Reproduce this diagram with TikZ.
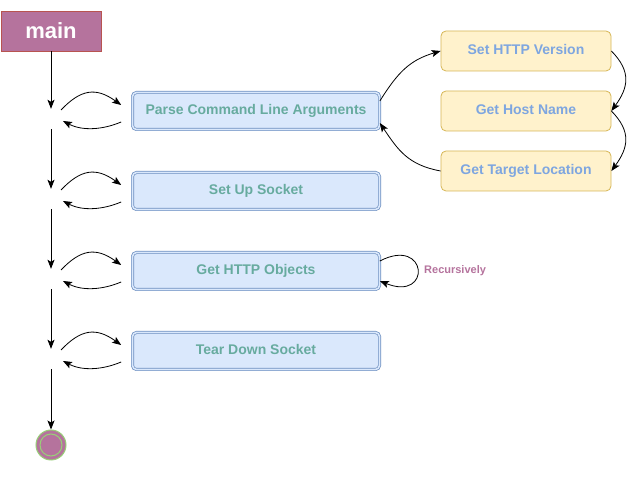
\documentclass[tikz,border=0pt]{standalone}
\usepackage{fontspec}
\setmainfont{Liberation Sans}
\usetikzlibrary{arrows.meta}
\definecolor{mainfill}{HTML}{B5739D}
\definecolor{mainline}{HTML}{B85450}
\definecolor{bluefill}{HTML}{DAE8FC}
\definecolor{blueline}{HTML}{6C8EBF}
\definecolor{bluetext}{HTML}{67AB9F}
\definecolor{yelfill}{HTML}{FFF2CC}
\definecolor{yelline}{HTML}{D6B656}
\definecolor{yeltext}{HTML}{7EA6E0}
\definecolor{endline}{HTML}{97D077}
\tikzset{
  arr/.style={-{Stealth[length=9pt,width=7pt,inset=2pt]}, line width=0.8pt},
  stepbox/.style={draw=blueline, double=bluefill, double distance=1.6pt, line width=0.7pt,
    fill=bluefill, rounded corners=4pt, minimum width=247pt, minimum height=37pt,
    text=bluetext, font=\bfseries\fontsize{14}{16}\selectfont, text height=10pt, text depth=2pt},
  subbox/.style={draw=yelline, fill=yelfill, line width=0.8pt, rounded corners=5pt,
    minimum width=170pt, minimum height=40pt, text=yeltext,
    font=\bfseries\fontsize{14}{16}\selectfont, text height=10pt, text depth=2pt},
  pt/.style={circle, minimum size=20pt, inner sep=0pt}
}
\begin{document}
\begin{tikzpicture}[x=1pt,y=-1pt]
\useasboundingbox (0,0) rectangle (641,502);
\node[draw=mainline, fill=mainfill, line width=0.8pt, minimum width=100pt, minimum height=40pt,
  text=white, font=\bfseries\fontsize{22}{24}\selectfont, inner sep=0pt] (main) at (51,31) {main};
\node[pt] (p1) at (51,119) {};
\node[pt] (p2) at (51,199) {};
\node[pt] (p3) at (51,279) {};
\node[pt] (p4) at (51,359) {};
\node[circle, draw=endline, fill=mainfill, line width=1pt, minimum size=30pt, inner sep=0pt] (end) at (51,445) {};
\draw[endline, line width=1pt] (end.center) circle (11pt);

\node[stepbox] (parse) at (256,111) {Parse Command Line Arguments};
\node[stepbox] (sock) at (256,191) {Set Up Socket};
\node[stepbox] (objs) at (256,271) {Get HTTP Objects};
\node[stepbox] (tear) at (256,351) {Tear Down Socket};

\node[subbox] (ver) at (526,51) {Set HTTP Version};
\node[subbox] (host) at (526,111) {Get Host Name};
\node[subbox] (loc) at (526,171) {Get Target Location};

\draw[arr] (main) -- (p1);
\draw[arr] (p1) -- (p2);
\draw[arr] (p2) -- (p3);
\draw[arr] (p3) -- (p4);
\draw[arr] (p4) -- (end);

\foreach \p/\b in {p1/parse, p2/sock, p3/objs, p4/tear}{
  \draw[arr] ([shift={(10,-9)}]\p.center) .. controls ([shift={(30,-30)}]\p.center) and ([shift={(45,-32)}]\p.center) .. ([shift={(-11,-6)}]\b.west);
  \draw[arr] ([shift={(-11,11)}]\b.west) .. controls ([shift={(-30,19)}]\b.west) and ([shift={(-50,20)}]\b.west) .. ([shift={(12,2)}]\p.center);
}

\draw[arr] ([shift={(0,-10)}]parse.east) .. controls (398,72) and (410,60) .. (ver.west);
\draw[arr] (ver.east) .. controls (632,72) and (628,88) .. (host.east);
\draw[arr] (host.east) .. controls (632,132) and (628,148) .. (loc.east);
\draw[arr] (loc.west) .. controls (408,165) and (398,150) .. ([shift={(0,12)}]parse.east);

\draw[arr] ([shift={(0,-10)}]objs.east) .. controls (428,236) and (432,302) .. ([shift={(0,10)}]objs.east);
\node[anchor=west, text=mainfill, font=\bfseries\fontsize{11}{13}\selectfont, inner sep=0pt] (rec) at (424,271) {Recursively};
\end{tikzpicture}
\end{document}
